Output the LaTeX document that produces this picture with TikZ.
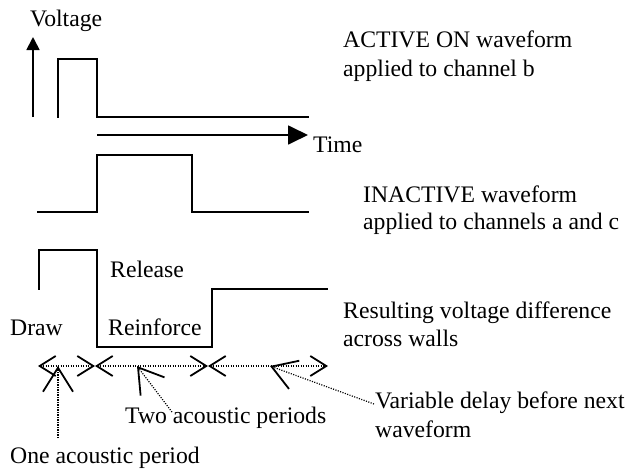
\documentclass[tikz,border=0pt]{standalone}
\usepackage{fontspec}
\setmainfont{Liberation Serif}
\usetikzlibrary{arrows.meta}
\begin{document}
\begin{tikzpicture}[x=1pt,y=-1pt,
  lbl/.style={anchor=base west,inner sep=0pt,font=\fontsize{23.7}{28}\selectfont},
  wave/.style={line width=1.8pt,line join=miter,line cap=rect},
  dotline/.style={line width=1.2pt,dash pattern=on 1.1pt off 1.4pt},
  ptr/.style={dotline,-{Straight Barb[length=24pt,width=30pt,line width=1.8pt]}},
  spanarrow/.style={dotline,{Straight Barb[length=16pt,width=20pt,line width=1.8pt]}-{Straight Barb[length=16pt,width=20pt,line width=1.8pt]}}
]
\useasboundingbox (0,0) rectangle (633,471);

% texts
\node[lbl] (volt) at (30,27) {Voltage};
\node[lbl] (act1) at (343,47) {ACTIVE ON waveform};
\node[lbl] (act2) at (343,76) {applied to channel b};
\node[lbl] (time) at (313,152) {Time};
\node[lbl] (ina1) at (363,202) {INACTIVE waveform};
\node[lbl] (ina2) at (363,229) {applied to channels a and c};
\node[lbl] (rel) at (110,277) {Release};
\node[lbl] (res1) at (343,318) {Resulting voltage difference};
\node[lbl] (res2) at (343,346) {across walls};
\node[lbl] (draw) at (10,335) {Draw};
\node[lbl] (rein) at (108,335) {Reinforce};
\node[lbl] (two) at (125,423) {Two acoustic periods};
\node[lbl] (var1) at (375,408) {Variable delay before next};
\node[lbl] (var2) at (375,437) {waveform};
\node[lbl] (one) at (10,463) {One acoustic period};

% axes
\coordinate (vb) at (33,117);
\coordinate (vt) at (33,37);
\draw[line width=1.8pt,-{Triangle[length=13pt,width=13pt]}] (vb) -- (vt);
\coordinate (tl) at (97,135);
\coordinate (tr) at (308,135);
\draw[line width=1.8pt,-{Triangle[length=20pt,width=19pt]}] (tl) -- (tr);

% waveforms
\draw[wave] (58,117) -- (58,59) -- (97,59) -- (97,117) -- (308,117);
\draw[wave] (38,212) -- (97,212) -- (97,155) -- (192,155) -- (192,212) -- (308,212);
\draw[wave] (39,289) -- (39,250) -- (97,250) -- (97,347) -- (212,347) -- (212,289) -- (327,289);

% time spans
\coordinate (s0) at (38,366);
\coordinate (s1) at (95,366);
\coordinate (s2) at (208,366);
\coordinate (s3) at (328,366);
\draw[spanarrow] (s0) -- (s1);
\draw[spanarrow] (s1) -- (s2);
\draw[spanarrow] (s2) -- (s3);

% pointers
\coordinate (t1) at (58,366);
\coordinate (t2) at (137,366);
\coordinate (t3) at (270,366);
\coordinate (p1) at (58,438);
\coordinate (p2) at (172,412);
\coordinate (p3) at (374,404);
\draw[ptr] (p1) -- (t1);
\draw[ptr] (p2) -- (t2);
\draw[ptr] (p3) -- (t3);
\end{tikzpicture}
\end{document}
